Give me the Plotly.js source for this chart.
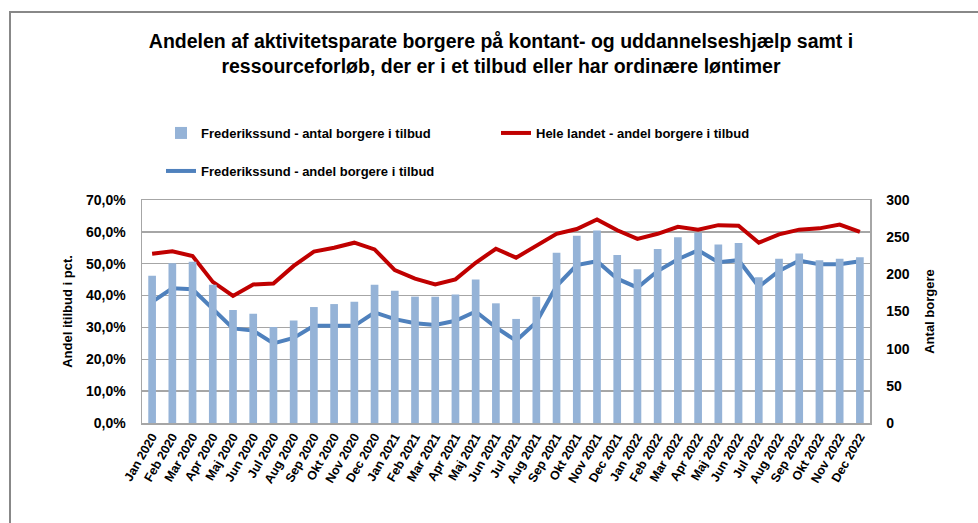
<!DOCTYPE html>
<html>
<head>
<meta charset="utf-8">
<script src="https://cdn.plot.ly/plotly-3.0.1.min.js"></script>
<style>html,body{margin:0;padding:0;background:#fff;}#chart{width:978px;height:523px;}</style>
</head>
<body>
<div id="chart"></div>
<script>
const months = ["Jan 2020","Feb 2020","Mar 2020","Apr 2020","Maj 2020","Jun 2020","Jul 2020","Aug 2020","Sep 2020","Okt 2020","Nov 2020","Dec 2020",
"Jan 2021","Feb 2021","Mar 2021","Apr 2021","Maj 2021","Jun 2021","Jul 2021","Aug 2021","Sep 2021","Okt 2021","Nov 2021","Dec 2021",
"Jan 2022","Feb 2022","Mar 2022","Apr 2022","Maj 2022","Jun 2022","Jul 2022","Aug 2022","Sep 2022","Okt 2022","Nov 2022","Dec 2022"];

// Frederikssund - antal borgere i tilbud (right axis)
const antalFrederikssund = [198,215,217,186,152,147,129,138,156,160,163,186,
178,170,170,173,193,161,140,170,229,252,259,226,
207,234,250,256,240,242,196,221,228,219,221,223];

// Hele landet - andel borgere i tilbud (pct.)
const andelHeleLandet = [53.1,53.9,52.4,44.3,39.9,43.5,43.8,49.3,53.8,55.0,56.6,54.5,
48.0,45.3,43.5,45.1,50.3,54.7,51.9,55.5,59.4,60.9,63.9,60.5,
57.8,59.4,61.6,60.7,62.1,61.9,56.6,59.2,60.7,61.1,62.3,60.0];

// Frederikssund - andel borgere i tilbud (pct.)
const andelFrederikssund = [38.0,42.3,42.0,35.7,29.7,29.0,25.0,26.7,30.5,30.5,30.5,34.7,
32.6,31.3,30.8,32.1,35.0,30.0,25.8,31.6,43.0,49.6,50.8,45.3,
42.5,47.7,51.4,54.2,50.5,51.1,42.8,47.7,51.0,49.8,49.8,50.8];

const leftTicks = [0,10,20,30,40,50,60,70];
const leftTickLabels = ["0,0%","10,0%","20,0%","30,0%","40,0%","50,0%","60,0%","70,0%"];
const rightTicks = [0,50,100,150,200,250,300];

const FONT = "Liberation Sans, Arial, sans-serif";

const traces = [
  {type:"bar", x:months, y:antalFrederikssund, yaxis:"y2", name:"Frederikssund - antal borgere i tilbud",
   marker:{color:"#95b3d7"}, legend:"legend"},
  {type:"scatter", mode:"lines", x:months, y:andelHeleLandet, name:"Hele landet - andel borgere i tilbud",
   line:{color:"#c00000", width:4}, legend:"legend"},
  {type:"scatter", mode:"lines", x:months, y:andelFrederikssund, name:"Frederikssund - andel borgere i tilbud",
   line:{color:"#4f81bd", width:4}, legend:"legend2"}
];

const W = 978, H = 523, L = 142, R = 108, T = 200, B = 100;
const pw = W - L - R, ph = H - T - B;
const px = v => (v - L) / pw;
const py = v => (H - B - v) / ph;

const layout = {
  width: W, height: H,
  margin: {l:L, r:R, t:T, b:B, pad:0},
  paper_bgcolor:"#ffffff", plot_bgcolor:"#ffffff",
  separators: ",.",
  font:{family:FONT, color:"#000", size:13},
  title:{text:"<b>Andelen af aktivitetsparate borgere på kontant- og uddannelseshjælp samt i<br>ressourceforløb, der er i et tilbud eller har ordinære løntimer</b>",
    font:{family:FONT, size:19.5, color:"#000"}, xref:"container", x:501/W, xanchor:"center", yref:"container", y:1-48/H, yanchor:"top"},
  bargap: 0.62,
  xaxis:{type:"category", tickangle:-60, tickfont:{family:FONT, size:12.5, color:"#000", weight:"bold"},
    showline:true, linecolor:"#a6a6a6", linewidth:1.5, mirror:true, ticks:"", showgrid:false, fixedrange:true},
  yaxis:{range:[0,70], tickvals:leftTicks, ticktext:leftTickLabels,
    tickfont:{family:FONT, size:14, color:"#000", weight:"bold"},
    showline:true, linecolor:"#a6a6a6", linewidth:1.5, gridcolor:"#a6a6a6", gridwidth:1.3, zeroline:false, ticks:"",
    ticklabelstandoff:12,
    title:{text:"<b>Andel itilbud i pct.</b>", font:{family:FONT, size:13, color:"#000"}, standoff:10}},
  yaxis2:{range:[0,300], tickvals:rightTicks, overlaying:"y", side:"right", showgrid:false, zeroline:false,
    tickfont:{family:FONT, size:14, color:"#000", weight:"bold"},
    showline:true, linecolor:"#a6a6a6", linewidth:1.5, ticks:"", ticklabelstandoff:12,
    title:{text:"<b>Antal borgere</b>", font:{family:FONT, size:13, color:"#000"}, standoff:16}},
  legend:{orientation:"h", x:px(161), xanchor:"left", y:py(133), yanchor:"middle",
    font:{family:FONT, size:13, color:"#000", weight:"bold"}, entrywidth:290, entrywidthmode:"pixels",
    bgcolor:"rgba(0,0,0,0)", traceorder:"normal"},
  legend2:{orientation:"h", x:px(161), xanchor:"left", y:py(171), yanchor:"middle",
    font:{family:FONT, size:13, color:"#000", weight:"bold"}, bgcolor:"rgba(0,0,0,0)"},
  shapes:[
    {type:"rect", xref:"paper", yref:"paper", x0:px(10), x1:px(995), y0:py(540), y1:py(12),
     line:{color:"#888888", width:2}, fillcolor:"rgba(0,0,0,0)", layer:"below"}
  ],
  showlegend:true
};

Plotly.newPlot("chart", traces, layout, {displayModeBar:false, staticPlot:true});
</script>
</body>
</html>
